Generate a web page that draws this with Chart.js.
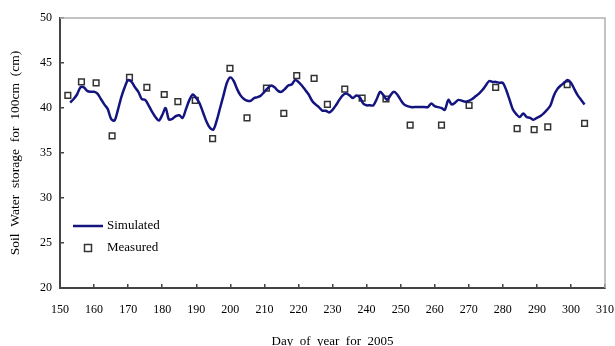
<!DOCTYPE html>
<html lang="en">
<head>
    <meta charset="UTF-8">
    <title>Soil water storage for 100cm, 2005</title>
    <script src="https://cdn.jsdelivr.net/npm/chart.js"></script>
    <style>
        * {
            margin: 0;
            padding: 0;
            box-sizing: border-box;
        }
        body {
            background: #fff;
            width: 615px;
            height: 346px;
            overflow: hidden;
        }
        #wrap {
            position: relative;
            width: 615px;
            height: 346px;
        }
    </style>
</head>
<body>
    <div id="wrap"><canvas id="myChart"></canvas></div>
    <script>
        // simulated storage, one value per day starting at day 153
        const simStartDay = 153;
        const simValues = [
            40.6, 41.0, 41.5, 42.3, 42.3, 41.9, 41.8, 41.8, 41.6, 41.0,   // 153-162
            40.4, 39.9, 38.8, 38.6, 39.8, 41.2, 42.3, 43.1, 42.9, 42.3,   // 163-172
            41.8, 41.0, 40.9, 40.3, 39.6, 39.0, 38.6, 39.2, 40.0, 38.7,   // 173-182
            38.8, 39.1, 39.2, 38.9, 39.9, 40.9, 41.5, 41.1, 40.5, 39.5,   // 183-192
            38.5, 37.8, 37.6, 38.6, 40.0, 41.4, 42.8, 43.4, 43.0, 42.1,   // 193-202
            41.4, 41.0, 40.8, 40.8, 41.1, 41.2, 41.4, 41.8, 42.2, 42.5,   // 203-212
            42.3, 41.9, 41.8, 42.1, 42.5, 42.6, 43.1, 42.9, 42.5, 42.0,   // 213-222
            41.5, 40.8, 40.4, 40.1, 39.7, 39.7, 39.5, 39.8, 40.3, 40.9,   // 223-232
            41.4, 41.6, 41.4, 41.1, 41.4, 41.2, 40.5, 40.3, 40.3, 40.3,   // 233-242
            41.0, 41.8, 41.4, 40.9, 41.4, 41.8, 41.5, 40.9, 40.4, 40.2,   // 243-252
            40.1, 40.1, 40.1, 40.1, 40.1, 40.1, 40.5, 40.2, 40.1, 40.0,   // 253-262
            39.8, 40.9, 40.4, 40.6, 40.9, 40.8, 40.7, 40.8, 41.0, 41.3,   // 263-272
            41.6, 42.0, 42.5, 43.0, 42.9, 42.9, 42.8, 42.8, 42.0, 40.9,   // 273-282
            39.8, 39.3, 39.0, 39.4, 39.0, 38.9, 38.7, 38.9, 39.1, 39.4,   // 283-292
            39.8, 40.3, 41.4, 42.1, 42.5, 42.8, 43.1, 42.8, 42.1, 41.4,   // 293-302
            40.9, 40.4                                                    // 303-304
        ];

        // measured storage
        const measDays = [152.3, 156.3, 160.6, 165.3, 170.4, 175.5, 180.6, 184.6, 189.7, 194.8,
                          199.9, 204.9, 210.6, 215.7, 219.5, 224.6, 228.5, 233.6, 238.7, 245.7,
                          252.8, 262.0, 270.1, 277.9, 284.2, 289.2, 293.2, 298.9, 304.0];
        const measValues = [41.4, 42.9, 42.8, 36.9, 43.4, 42.3, 41.5, 40.7, 40.85, 36.6,
                            44.4, 38.9, 42.2, 39.4, 43.6, 43.3, 40.4, 42.1, 41.1, 41.0,
                            38.1, 38.1, 40.3, 42.3, 37.7, 37.6, 37.9, 42.6, 38.3];

        const xTitle = 'Day  of  year  for  2005';
        const yTitle = 'Soil  Water  storage  for  100cm  (cm)';
        const serif = '"Liberation Serif", "Times New Roman", serif';

        const simPoints = simValues.map((v, i) => ({ x: simStartDay + i, y: v }));
        const measPoints = measDays.map((d, i) => ({ x: d, y: measValues[i] }));

        // grey frame on top and right + legend inside the plot
        const framePlugin = {
            id: 'frame',
            afterDraw(chart) {
                const ctx = chart.ctx;
                const a = chart.chartArea;
                ctx.save();
                ctx.strokeStyle = '#b0b0b0';
                ctx.lineWidth = 1.5;
                ctx.beginPath();
                ctx.moveTo(a.left, a.top);
                ctx.lineTo(a.right, a.top);
                ctx.lineTo(a.right, a.bottom);
                ctx.stroke();

                // legend
                const lx = a.left + 13;
                const ly = a.top + 208;
                ctx.strokeStyle = '#14147f';
                ctx.lineWidth = 2.5;
                ctx.beginPath();
                ctx.moveTo(lx, ly);
                ctx.lineTo(lx + 30, ly);
                ctx.stroke();
                ctx.strokeStyle = '#333';
                ctx.lineWidth = 1.5;
                ctx.fillStyle = '#fff';
                ctx.fillRect(lx + 11.5, ly + 18.5, 7, 7);
                ctx.strokeRect(lx + 11.5, ly + 18.5, 7, 7);
                ctx.fillStyle = '#000';
                ctx.font = '13px ' + serif;
                ctx.textBaseline = 'middle';
                ctx.fillText('Simulated', lx + 34, ly);
                ctx.fillText('Measured', lx + 34, ly + 22);
                ctx.restore();
            }
        };

        const ctx = document.getElementById('myChart').getContext('2d');
        new Chart(ctx, {
            type: 'scatter',
            data: {
                datasets: [
                    {
                        label: 'Simulated',
                        data: simPoints,
                        showLine: true,
                        borderColor: '#14147f',
                        borderWidth: 2.5,
                        pointRadius: 0,
                        tension: 0.3
                    },
                    {
                        label: 'Measured',
                        data: measPoints,
                        pointStyle: 'rect',
                        pointRadius: 4,
                        borderColor: '#333',
                        backgroundColor: '#fff',
                        borderWidth: 1.5
                    }
                ]
            },
            options: {
                responsive: true,
                maintainAspectRatio: false,
                animation: false,
                layout: {
                    padding: { top: 18, right: 10, left: 0, bottom: 0 }
                },
                scales: {
                    x: {
                        type: 'linear',
                        min: 150,
                        max: 310,
                        afterFit: s => {
                            s.height = 58;
                            s.paddingLeft = 0;
                            s.paddingRight = 0;
                        },
                        border: { color: '#444', width: 2 },
                        grid: {
                            drawOnChartArea: false,
                            drawTicks: true,
                            tickLength: -4,
                            color: '#444',
                            lineWidth: 1.5
                        },
                        ticks: {
                            stepSize: 10,
                            padding: 19,
                            color: '#000',
                            font: { family: serif, size: 12 }
                        },
                        title: {
                            display: true,
                            text: xTitle,
                            color: '#000',
                            font: { family: serif, size: 13 },
                            padding: { top: 0, bottom: -3 }
                        }
                    },
                    y: {
                        min: 20,
                        max: 50,
                        afterFit: s => {
                            s.width = 60;
                            s.paddingTop = 0;
                            s.paddingBottom = 0;
                        },
                        border: { color: '#444', width: 2 },
                        grid: {
                            drawOnChartArea: false,
                            drawTicks: true,
                            tickLength: -4,
                            color: '#444',
                            lineWidth: 1.5
                        },
                        ticks: {
                            stepSize: 5,
                            padding: 12,
                            color: '#000',
                            font: { family: serif, size: 12 }
                        },
                        title: {
                            display: true,
                            text: yTitle,
                            color: '#000',
                            font: { family: serif, size: 13.5 },
                            padding: { top: 7, bottom: 0 }
                        }
                    }
                },
                plugins: {
                    legend: { display: false },
                    tooltip: { enabled: false }
                }
            },
            plugins: [framePlugin]
        });
    </script>
</body>
</html>
